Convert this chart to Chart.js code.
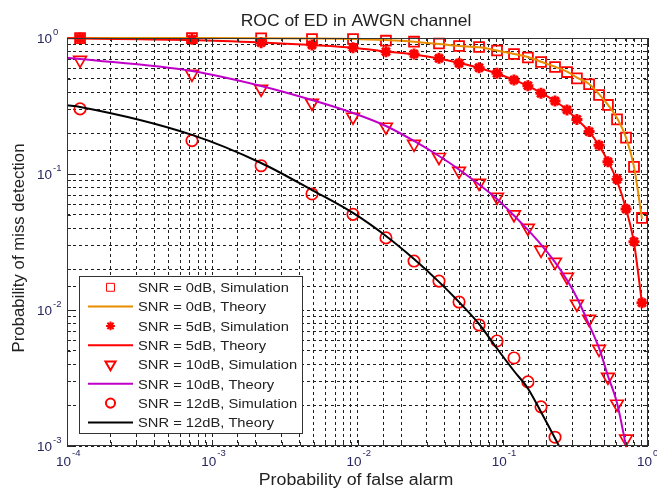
<!DOCTYPE html>
<html>
<head>
<meta charset="utf-8">
<script src="https://cdn.jsdelivr.net/npm/chart.js@4.4.0/dist/chart.umd.min.js"></script>
<style>
html, body { margin: 0; padding: 0; background: #fff; }
#wrap { width: 657px; height: 490px; }
</style>
</head>
<body>
<div id="wrap"><canvas id="roc" width="657" height="490"></canvas></div>
<script>
// Pf grid of the simulation points
var pfSim = [1.23e-4, 7.25e-4, 2.17e-3, 4.86e-3, 9.31e-3, 0.0157, 0.0245, 0.0364, 0.050, 0.0687,
             0.0913, 0.1195, 0.149, 0.1834, 0.229, 0.277, 0.324, 0.393, 0.46, 0.53, 0.612, 0.706, 0.801, 0.909];

// simulated Pm (read off the markers)
var sim0 = [0.998, 0.998, 0.995, 0.983, 0.983, 0.955, 0.939, 0.911, 0.873, 0.859, 0.809, 0.763,
            0.719, 0.666, 0.612, 0.562, 0.505, 0.457, 0.381, 0.322, 0.252, 0.185, 0.113, 0.0475];
var sim5 = [0.998, 0.978, 0.924, 0.888, 0.849, 0.793, 0.763, 0.709, 0.652, 0.605, 0.550, 0.491,
            0.446, 0.392, 0.344, 0.296, 0.252, 0.205, 0.163, 0.123, 0.0914, 0.0553, 0.0318, 0.0113];
var sim10 = [0.689, 0.543, 0.422, 0.333, 0.263, 0.222, 0.166, 0.133, 0.105, 0.0859, 0.0678,
             0.0504, 0.0401, 0.0276, 0.0225, 0.0175, 0.01107, 0.00859, 0.00516, 0.00322, 0.00204, 0.00113];
var sim12 = [0.301, 0.176, 0.115, 0.0713, 0.0505, 0.0339, 0.0229, 0.0163, 0.01145, 0.00776,
             0.00592, 0.00444, 0.00296, 0.00194, 0.00116];

// theory curves
var pfTh = [1e-4, 1.23e-4, 7.25e-4, 2.17e-3, 4.86e-3, 9.31e-3, 0.0157, 0.0245, 0.0364, 0.050, 0.0687,
            0.0913, 0.1195, 0.149, 0.1834, 0.229, 0.277, 0.324, 0.393, 0.46, 0.53, 0.612, 0.706, 0.801, 0.909];
var th0 = [1.0, 1.0, 0.999, 0.997, 0.993, 0.985, 0.965, 0.939, 0.903, 0.873, 0.854, 0.809, 0.763,
           0.725, 0.669, 0.615, 0.566, 0.512, 0.459, 0.387, 0.322, 0.258, 0.185, 0.113, 0.0467];
var th5 = [0.995, 0.992, 0.967, 0.927, 0.888, 0.849, 0.796, 0.756, 0.707, 0.655, 0.602, 0.548, 0.491,
           0.444, 0.394, 0.344, 0.296, 0.252, 0.205, 0.162, 0.124, 0.089, 0.0553, 0.0311, 0.0112];
var pfTh10 = [1e-4, 1.23e-4, 7.25e-4, 2.17e-3, 4.86e-3, 9.31e-3, 0.0157, 0.0245, 0.0364, 0.050, 0.0687,
              0.0913, 0.1195, 0.149, 0.1834, 0.229, 0.277, 0.324, 0.393, 0.46, 0.53, 0.612, 0.706];
var th10 = [0.716, 0.701, 0.572, 0.444, 0.350, 0.281, 0.2255, 0.175, 0.1356, 0.108, 0.0837, 0.0655,
            0.0495, 0.0388, 0.0303, 0.0225, 0.0166, 0.0123, 0.0078, 0.00526, 0.00327, 0.00207, 0.001];
var pfTh12 = [1e-4, 1.23e-4, 7.25e-4, 2.17e-3, 4.86e-3, 9.31e-3, 0.0157, 0.0245, 0.0364, 0.050, 0.0687,
              0.0913, 0.1195, 0.149, 0.1834, 0.229, 0.244];
var th12 = [0.32, 0.311, 0.194, 0.1205, 0.0762, 0.0517, 0.035, 0.0237, 0.0161, 0.01145, 0.00789,
            0.00521, 0.00356, 0.00265, 0.00178, 0.00114, 0.001];

var xExps = [-4, -3, -2, -1, 0];
var yExps = [0, -1, -2, -3];
var legendLabels = ['SNR = 0dB, Simulation', 'SNR = 0dB, Theory', 'SNR = 5dB, Simulation', 'SNR = 5dB, Theory',
                    'SNR = 10dB, Simulation', 'SNR = 10dB, Theory', 'SNR = 12dB, Simulation', 'SNR = 12dB, Theory'];

var FONT = '"Liberation Sans", Arial, sans-serif';

function pts(xs, ys) {
    var out = [];
    for (var i = 0; i < ys.length; i++) out.push({x: xs[i], y: ys[i]});
    return out;
}

function simSet(label, xs, ys, style, radius, rot, bw) {
    return {
        label: label, data: pts(xs, ys), showLine: false, clip: false,
        pointStyle: style, pointRadius: radius, pointRotation: rot,
        pointBorderColor: '#ff0000', pointBackgroundColor: 'rgba(0,0,0,0)', pointBorderWidth: bw
    };
}

function thSet(label, xs, ys, color) {
    return {
        label: label, data: pts(xs, ys), borderColor: color, borderWidth: 2, pointRadius: 0,
        cubicInterpolationMode: 'monotone', clip: false
    };
}

var datasets = [
    simSet(legendLabels[0], pfSim, sim0, 'rect', 7, 0, 1.8),
    thSet(legendLabels[1], pfTh, th0, '#e88c00'),
    simSet(legendLabels[2], pfSim, sim5, 'star', 5.5, 0, 3),
    thSet(legendLabels[3], pfTh, th5, '#ff0000'),
    simSet(legendLabels[4], pfSim, sim10, 'triangle', 7.3, 180, 1.7),
    thSet(legendLabels[5], pfTh10, th10, '#c000c8'),
    simSet(legendLabels[6], pfSim, sim12, 'circle', 5.7, 0, 1.7),
    thSet(legendLabels[7], pfTh12, th12, '#000000')
];
// later series painted on top, as in the original figure
datasets.forEach(function (d, i) { d.order = datasets.length - i; });

// text with a slight horizontal stretch, the source picture is a bit wider than tall
function txt(ctx, s, x, y, size, sx, align) {
    ctx.save();
    ctx.font = size + 'px ' + FONT;
    ctx.textAlign = align;
    ctx.translate(x, y);
    ctx.scale(sx, 1);
    ctx.fillText(s, 0, 0);
    ctx.restore();
}

// axes box, tick marks, tick labels, titles and legend
var decorate = {
    id: 'decorate',
    afterDraw: function (chart) {
        var ctx = chart.ctx, a = chart.chartArea;
        var xs = chart.scales.x, ys = chart.scales.y;
        ctx.save();
        ctx.setLineDash([]);
        ctx.strokeStyle = '#2a2a2a';
        ctx.lineWidth = 1;

        // tick marks on all four sides
        xs.ticks.forEach(function (t) {
            var px = Math.round(xs.getPixelForValue(t.value)) + 0.5;
            var len = t.major ? 6 : 4;
            ctx.beginPath();
            ctx.moveTo(px, a.bottom); ctx.lineTo(px, a.bottom - len);
            ctx.moveTo(px, a.top); ctx.lineTo(px, a.top + len);
            ctx.stroke();
        });
        ys.ticks.forEach(function (t) {
            var py = Math.round(ys.getPixelForValue(t.value)) + 0.5;
            var len = t.major ? 6 : 4;
            ctx.beginPath();
            ctx.moveTo(a.left, py); ctx.lineTo(a.left + len, py);
            ctx.moveTo(a.right, py); ctx.lineTo(a.right - len, py);
            ctx.stroke();
        });

        ctx.strokeStyle = '#333';
        ctx.strokeRect(a.left + 0.5, a.top + 0.5, a.width - 1, a.height - 1);

        // tick labels 10^k
        ctx.fillStyle = '#262660';
        ctx.textBaseline = 'middle';
        ctx.textAlign = 'left';
        xExps.forEach(function (e) {
            var px = xs.getPixelForValue(Math.pow(10, e));
            ctx.font = '13.5px ' + FONT;
            var w = ctx.measureText('10').width;
            ctx.fillText('10', px - 11, 462);
            ctx.font = '9.5px ' + FONT;
            ctx.fillText(String(e), px - 11 + w + 1, 453);
        });
        yExps.forEach(function (e) {
            var py = ys.getPixelForValue(Math.pow(10, e));
            ctx.font = '13.5px ' + FONT;
            var w = ctx.measureText('10').width;
            ctx.fillText('10', 37, py + 1);
            ctx.font = '9.5px ' + FONT;
            ctx.fillText(String(e), 37 + w + 1, py - 6);
        });

        // title and axis labels
        ctx.fillStyle = '#222';
        txt(ctx, 'ROC of ED in AWGN channel', 356, 21, 16.5, 1.06, 'center');
        txt(ctx, 'Probability of false alarm', 356, 481, 16, 1.11, 'center');
        ctx.save();
        ctx.translate(19, 248);
        ctx.rotate(-Math.PI / 2);
        txt(ctx, 'Probability of miss detection', 0, 0, 16.8, 1, 'center');
        ctx.restore();

        // legend box
        var bx = 79, by = 276, bw = 223, bh = 157;
        ctx.fillStyle = '#fff';
        ctx.fillRect(bx, by, bw, bh);
        ctx.strokeStyle = '#333';
        ctx.lineWidth = 1;
        ctx.strokeRect(bx + 0.5, by + 0.5, bw, bh);
        chart.data.datasets.forEach(function (d, i) {
            var cy = 287.3 + i * 19.3;
            if (d.showLine === false) {
                ctx.strokeStyle = d.pointBorderColor;
                ctx.fillStyle = 'rgba(0,0,0,0)';
                Chart.helpers.drawPoint(ctx, {
                    pointStyle: d.pointStyle, rotation: d.pointRotation,
                    radius: d.pointRadius * 0.8, borderWidth: d.pointBorderWidth
                }, 110.5, cy);
            } else {
                ctx.strokeStyle = d.borderColor;
                ctx.lineWidth = d.borderWidth;
                ctx.beginPath();
                ctx.moveTo(88, cy); ctx.lineTo(133, cy);
                ctx.stroke();
            }
            ctx.fillStyle = '#222';
            txt(ctx, d.label, 138, cy + 1, 13.5, 1.09, 'left');
        });
        ctx.restore();
    }
};

var axisOpts = function (min, max) {
    return {
        type: 'logarithmic', min: min, max: max,
        ticks: {display: false, autoSkip: false},
        grid: {color: '#1e1e1e', lineWidth: 1, drawTicks: false},
        border: {display: false, dash: [3, 3]}
    };
};

new Chart(document.getElementById('roc'), {
    type: 'line',
    data: {datasets: datasets},
    options: {
        responsive: false,
        animation: false,
        layout: {padding: {left: 67, right: 9, top: 38, bottom: 44}},
        plugins: {legend: {display: false}, tooltip: {enabled: false}, title: {display: false}},
        scales: {x: axisOpts(1e-4, 1), y: axisOpts(1e-3, 1)}
    },
    plugins: [decorate]
});
</script>
</body>
</html>
